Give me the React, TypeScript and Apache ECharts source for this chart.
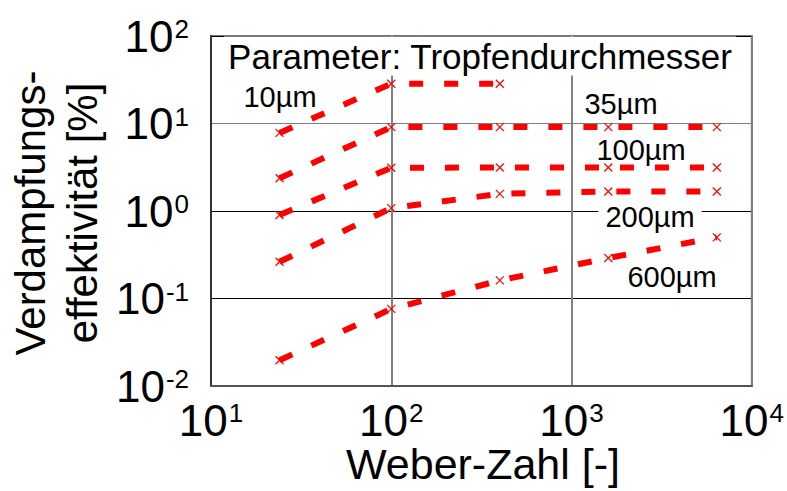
import { useEffect, useRef } from "react";
import * as echarts from "echarts";

// Weber numbers (x) shared by all series
const weberNumbers = [24, 100, 400, 1600, 6400];

// Evaporation effectiveness [%] per droplet diameter
const eff10um = [7.8, 28.5, 28.5];
const eff35um = [2.37, 9.1, 9.1, 9.1, 9.1];
const eff100um = [0.9, 3.12, 3.14, 3.14, 3.14];
const eff200um = [0.263, 1.08, 1.57, 1.67, 1.67];
const eff600um = [0.0197, 0.076, 0.161, 0.29, 0.5];

const seriesNames = ["10µm", "35µm", "100µm", "200µm", "600µm"];
const seriesValues = [eff10um, eff35um, eff100um, eff200um, eff600um];

const xAxisTitle = "Weber-Zahl [-]";
const yAxisTitle = "Verdampfungs-\neffektivität [%]";
const parameterTitle = "Parameter: Tropfendurchmesser";

const FONT = '"Liberation Sans", Arial, Helvetica, sans-serif';
const RED = "#ff0000";

const powLabel = (value: number) => {
  const e = Math.round(Math.log10(value));
  return `{b|10}{s|${e}}`;
};

export default function App() {
  const ref = useRef<HTMLDivElement>(null);

  useEffect(() => {
    document.body.style.margin = "0";
    if (!ref.current) return;
    const chart = echarts.init(ref.current, undefined, { renderer: "svg" });

    const richLabel = {
      b: { fontSize: 44, fontFamily: FONT, color: "#000" },
      s: { fontSize: 26, fontFamily: FONT, color: "#000", verticalAlign: "top", padding: [2, 0, 0, 1] },
    };

    const series = seriesNames.map((name, si) => ({
      name,
      type: "line",
      data: seriesValues[si].map((v, i) => [weberNumbers[i], v]),
      symbol: "path://M0,0L10,10M10,0L0,10",
      symbolSize: 8,
      itemStyle: { color: RED, borderColor: RED, borderWidth: 1.2 },
      lineStyle: { color: RED, width: 6, type: [14, 21], cap: "butt" },
      emphasis: { disabled: true },
      silent: true,
      z: 3,
    }));

    const labelStyle = (text: string, x: number, y: number, extra: any = {}) => ({
      type: "text",
      x,
      y,
      z: 100,
      silent: true,
      style: {
        text,
        fontSize: 29,
        fontFamily: FONT,
        fill: "#000",
        align: "center",
        verticalAlign: "middle",
        ...extra,
      },
    });

    chart.setOption({
      animation: false,
      backgroundColor: "#fff",
      grid: {
        left: 211,
        right: 34,
        top: 36,
        bottom: 105,
        show: true,
        borderColor: "#777",
        borderWidth: 2,
        containLabel: false,
      },
      xAxis: {
        type: "log",
        logBase: 10,
        min: 10,
        max: 10000,
        axisLine: { show: true, lineStyle: { color: "#555", width: 2 } },
        axisTick: { show: false },
        splitLine: { show: true, lineStyle: { color: "#808080", width: 2 } },
        axisLabel: {
          margin: 12,
          fontSize: 44,
          fontFamily: FONT,
          color: "#000",
          formatter: powLabel,
          rich: richLabel,
        },
      },
      yAxis: {
        type: "log",
        logBase: 10,
        min: 0.01,
        max: 100,
        axisLine: { show: true, lineStyle: { color: "#333", width: 2 } },
        axisTick: { show: false },
        splitLine: {
          show: true,
          lineStyle: { color: ["#000", "#000", "#000", "#808080", "#000"], width: 1.2 },
        },
        axisLabel: {
          margin: 22,
          fontSize: 44,
          fontFamily: FONT,
          color: "#000",
          formatter: powLabel,
          rich: richLabel,
        },
      },
      series,
      graphic: [
        labelStyle(parameterTitle, 480, 56, { fontSize: 35, backgroundColor: "#fff", padding: [2, 4] }),
        labelStyle(seriesNames[0], 280, 97),
        labelStyle(seriesNames[1], 621, 104),
        labelStyle(seriesNames[2], 641, 150),
        labelStyle(seriesNames[3], 650, 217, { backgroundColor: "#fff", padding: [0, 7] }),
        labelStyle(seriesNames[4], 672, 277),
        {
          type: "text",
          x: 483,
          y: 464,
          z: 100,
          silent: true,
          style: {
            text: xAxisTitle,
            fontSize: 43,
            fontFamily: FONT,
            fill: "#000",
            align: "center",
            verticalAlign: "middle",
          },
        },
        {
          type: "text",
          x: 56,
          y: 213,
          rotation: Math.PI / 2,
          z: 100,
          silent: true,
          style: {
            text: yAxisTitle,
            fontSize: 42,
            lineHeight: 52,
            fontFamily: FONT,
            fill: "#000",
            align: "center",
            verticalAlign: "middle",
          },
        },
      ],
    });

    return () => chart.dispose();
  }, []);

  return <div ref={ref} style={{ width: 787, height: 491 }} />;
}
